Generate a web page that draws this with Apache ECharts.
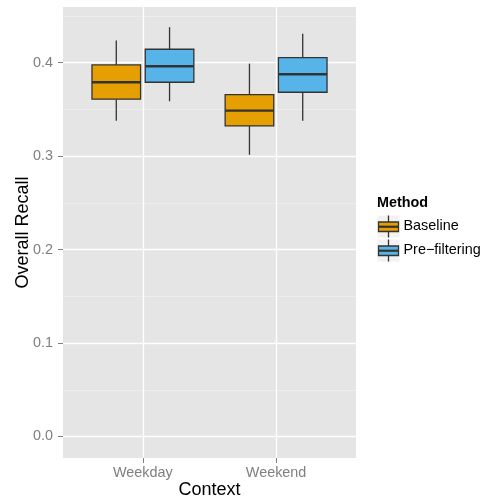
<!DOCTYPE html>
<html>
<head>
<meta charset="utf-8">
<script src="https://cdn.jsdelivr.net/npm/echarts@6/dist/echarts.min.js"></script>
<style>html,body{margin:0;padding:0;background:#fff}#c{width:486px;height:504px}</style>
</head>
<body>
<div id="c"></div>
<script>
// ---- data ----
const categories = ['Weekday', 'Weekend'];
const methods = ['Baseline', 'Pre\u2212filtering'];
// [low whisker, Q1, median, Q3, high whisker] per category
const baseline = [
  [0.338, 0.361, 0.379, 0.3976, 0.4237],
  [0.3015, 0.3323, 0.3487, 0.3658, 0.399]
];
const prefiltering = [
  [0.3587, 0.3791, 0.3962, 0.4144, 0.438],
  [0.338, 0.3684, 0.3877, 0.4055, 0.4309]
];
const yTicks = [0.0, 0.1, 0.2, 0.3, 0.4];

// ---- styles ----
const FONT = 'Liberation Sans, Arial, Helvetica, sans-serif';
const colors = ['#E69F00', '#56B4E9'];
const offsets = [-0.2, 0.2];
const BOX_W = 0.365;
const DARK = '#333333';

function toData(arr) {
  return arr.map((v, i) => [i + 1].concat(v));
}

function makeRender(offset) {
  return function (params, api) {
    const x = api.value(0) + offset;
    const lo = api.coord([x, api.value(1)]);
    const q1 = api.coord([x, api.value(2)]);
    const med = api.coord([x, api.value(3)]);
    const q3 = api.coord([x, api.value(4)]);
    const hi = api.coord([x, api.value(5)]);
    const hw = api.size([BOX_W, 0])[0] / 2;
    const cx = lo[0];
    return {
      type: 'group',
      children: [
        { type: 'line', shape: { x1: cx, y1: hi[1], x2: cx, y2: q3[1] }, style: { stroke: DARK, lineWidth: 1.3 } },
        { type: 'line', shape: { x1: cx, y1: q1[1], x2: cx, y2: lo[1] }, style: { stroke: DARK, lineWidth: 1.3 } },
        { type: 'rect', shape: { x: cx - hw, y: q3[1], width: 2 * hw, height: q1[1] - q3[1] },
          style: { fill: api.visual('color'), stroke: DARK, lineWidth: 1.3 } },
        { type: 'line', shape: { x1: cx - hw, y1: med[1], x2: cx + hw, y2: med[1] }, style: { stroke: DARK, lineWidth: 2.4 } }
      ]
    };
  };
}

// legend keys (drawn as graphics), one per method
const KEY_X = 377, KEY_Y = 215, KEY_STEP = 24;
function legendKey(i) {
  const y0 = KEY_Y + i * KEY_STEP;
  const cx = KEY_X + 11.5;
  return {
    type: 'group', z: 5,
    children: [
      { type: 'rect', shape: { x: KEY_X, y: y0, width: 23, height: 23 }, style: { fill: '#F2F2F2', stroke: '#FFFFFF', lineWidth: 1 } },
      { type: 'line', shape: { x1: cx, y1: y0 + 0.5, x2: cx, y2: y0 + 7 }, style: { stroke: DARK, lineWidth: 1.3 } },
      { type: 'line', shape: { x1: cx, y1: y0 + 16.5, x2: cx, y2: y0 + 22.5 }, style: { stroke: DARK, lineWidth: 1.3 } },
      { type: 'rect', shape: { x: KEY_X + 1.5, y: y0 + 7, width: 20, height: 9.5 }, style: { fill: colors[i], stroke: DARK, lineWidth: 1.3 } },
      { type: 'line', shape: { x1: KEY_X + 1.5, y1: y0 + 11.75, x2: KEY_X + 21.5, y2: y0 + 11.75 }, style: { stroke: DARK, lineWidth: 2.2 } }
    ]
  };
}

const chart = echarts.init(document.getElementById('c'), null, { renderer: 'canvas' });
chart.setOption({
  animation: false,
  backgroundColor: '#ffffff',
  textStyle: { fontFamily: FONT },
  grid: { left: 63, top: 7, width: 293, height: 451, containLabel: false, outerBoundsMode: 'none',
          show: true, backgroundColor: '#E5E5E5', borderWidth: 0 },
  xAxis: {
    type: 'value', min: 0.4, max: 2.6, splitNumber: 2,
    name: 'Context', nameLocation: 'middle', nameGap: 23, nameMoveOverlap: false,
    nameTextStyle: { fontSize: 18, color: '#000', fontFamily: FONT },
    axisLine: { show: false, onZero: false },
    axisTick: { show: true, length: 5, lineStyle: { color: '#7F7F7F', width: 1 }, customValues: [1, 2] },
    axisLabel: { customValues: [1, 2], margin: 8, fontSize: 14.4, color: '#7F7F7F', fontFamily: FONT,
                 formatter: v => categories[Math.round(v) - 1] || '' },
    splitLine: { show: true, showMinLine: true, showMaxLine: true, lineStyle: { color: '#FFFFFF', width: 1.3 } }
  },
  yAxis: {
    type: 'value', min: -0.023, max: 0.4596,
    name: 'Overall Recall', nameLocation: 'middle', nameGap: 31, nameMoveOverlap: false,
    nameTextStyle: { fontSize: 18, color: '#000', fontFamily: FONT },
    axisLine: { show: false, onZero: false },
    axisTick: { show: true, length: 5, lineStyle: { color: '#7F7F7F', width: 1 }, customValues: yTicks },
    axisLabel: { customValues: yTicks, margin: 10, fontSize: 14.4, color: '#7F7F7F', fontFamily: FONT,
                 formatter: v => v.toFixed(1) },
    splitLine: { show: true, showMinLine: true, showMaxLine: true, lineStyle: { color: '#FFFFFF', width: 1.3 } },
    minorTick: { show: false, splitNumber: 2 },
    minorSplitLine: { show: true, lineStyle: { color: '#F2F2F2', width: 0.6 } }
  },
  legend: {
    orient: 'vertical', left: 378.5, top: KEY_Y, padding: 0, itemGap: KEY_STEP - 23,
    itemWidth: 20, itemHeight: 23, icon: 'rect', selectedMode: false,
    itemStyle: { opacity: 0 },
    textStyle: { fontSize: 14.4, color: '#000', fontFamily: FONT },
    data: methods
  },
  graphic: [
    { type: 'text', left: 377, top: 196, style: { text: 'Method', font: 'bold 14.4px ' + FONT, fill: '#000' } },
    legendKey(0),
    legendKey(1)
  ],
  series: [
    { name: methods[0], type: 'custom', renderItem: makeRender(offsets[0]), itemStyle: { color: colors[0] },
      encode: { x: 0, y: [1, 2, 3, 4, 5] }, data: toData(baseline) },
    { name: methods[1], type: 'custom', renderItem: makeRender(offsets[1]), itemStyle: { color: colors[1] },
      encode: { x: 0, y: [1, 2, 3, 4, 5] }, data: toData(prefiltering) }
  ]
});
</script>
</body>
</html>
